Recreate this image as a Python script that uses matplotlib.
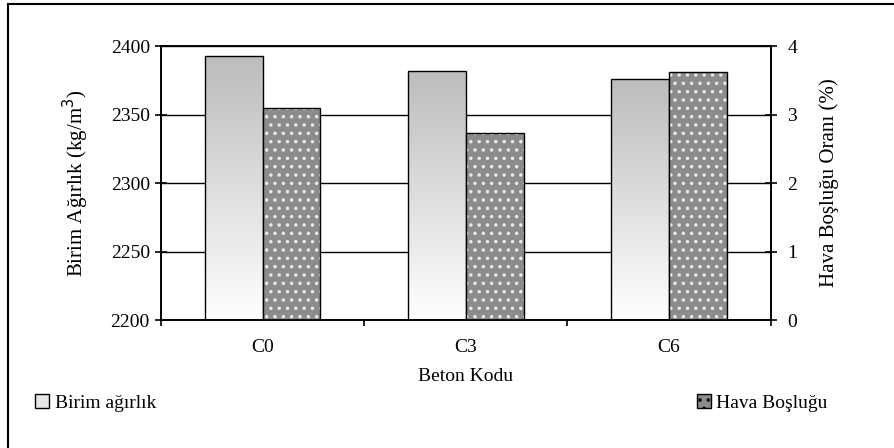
import matplotlib.pyplot as plt
import matplotlib.patches as mpatches
import numpy as np

# data
categories = ['C0', 'C3', 'C6']
birim_agirlik = [2393, 2382, 2376]      # kg/m3, left axis
hava_boslugu = [3.09, 2.73, 3.62]       # %, right axis

plt.rcParams['font.family'] = ['Liberation Serif', 'DejaVu Serif']
plt.rcParams['font.size'] = 13

fig = plt.figure(figsize=(8.94, 4.48), dpi=100)
ax = fig.add_axes([0.180, 0.2857, 0.682, 0.6116])
ax2 = ax.twinx()

x = np.arange(len(categories))
w = 0.285

# left axis: gradient bars
ax.set_ylim(2200, 2400)
ax.set_xlim(-0.5, 2.5)
ax.set_yticks([2200, 2250, 2300, 2350, 2400])
ax.grid(axis='y', color='black', linewidth=1)
ax.set_axisbelow(True)

grad = np.linspace(0, 1, 256).reshape(-1, 1)
cmap = plt.cm.colors.LinearSegmentedColormap.from_list('g', ['#ffffff', '#bcbcbc'])
for xi, val in zip(x, birim_agirlik):
    left = xi - w
    bar = mpatches.Rectangle((left, 2200), w, val - 2200, facecolor='none',
                             edgecolor='black', linewidth=1, zorder=3)
    ax.add_patch(bar)
    im = ax.imshow(grad, cmap=cmap, origin='lower',
                   extent=[left, left + w, 2200, val], aspect='auto', zorder=2)
    im.set_clip_path(bar)
ax.set_aspect('auto')
ax.set_xlim(-0.5, 2.5)
ax.set_ylim(2200, 2400)

# right axis: dotted bars
ax2.set_ylim(0, 4)
ax2.set_yticks([0, 1, 2, 3, 4])
ax2.bar(x + w / 2, hava_boslugu, w, color='#8c8c8c', edgecolor='none', zorder=2)
plt.rcParams['hatch.linewidth'] = 1.3
ax2.bar(x + w / 2, hava_boslugu, w, color='none', edgecolor='#e8e8e8', hatch='..', linewidth=0, zorder=3)
ax2.bar(x + w / 2, hava_boslugu, w, color='none', edgecolor='black', linewidth=1, zorder=4)

# ticks and labels
ax.set_xticks(x)
ax.set_xticklabels(categories, fontsize=14)
ax.set_xticks([-0.5, 0.5, 1.5, 2.5], minor=True)
ax.tick_params(axis='x', which='major', length=0, pad=14)
ax.tick_params(axis='x', which='minor', length=4, direction='out', width=1.2)
ax.tick_params(axis='y', direction='inout', length=8, width=1.2, pad=4, labelsize=14)
ax2.tick_params(axis='y', direction='inout', length=8, width=1.2, pad=8, labelsize=14)
for a in (ax, ax2):
    for s in a.spines.values():
        s.set_linewidth(1.2)

ax.set_xlabel('Beton Kodu', fontsize=14, labelpad=8)
ax.set_ylabel('Birim Ağırlık (kg/m$^3$)', fontsize=15, labelpad=14)
ax2.set_ylabel('Hava Boşluğu Oranı (%)', fontsize=15, labelpad=16)

# legends at the bottom corners
h1 = mpatches.Patch(facecolor='#e6e6e6', edgecolor='black')
h2 = mpatches.Patch(facecolor='#8c8c8c', edgecolor='black', hatch='..')
fig.legend([h1], ['Birim ağırlık'], loc='center left', bbox_to_anchor=(0.02, 0.1),
           frameon=False, handlelength=0.7, handleheight=0.7, handletextpad=0.3, fontsize=14)
fig.legend([h2], ['Hava Boşluğu'], loc='center left', bbox_to_anchor=(0.76, 0.1),
           frameon=False, handlelength=0.7, handleheight=0.7, handletextpad=0.3, fontsize=14)

# frame of the chart area (left and top edges visible)
fig.add_artist(plt.Line2D([0.009, 0.009], [0.0, 0.992], color='black', linewidth=1.5))
fig.add_artist(plt.Line2D([0.009, 1.0], [0.992, 0.992], color='black', linewidth=1.5))

fig.savefig('out.png', dpi=100)
